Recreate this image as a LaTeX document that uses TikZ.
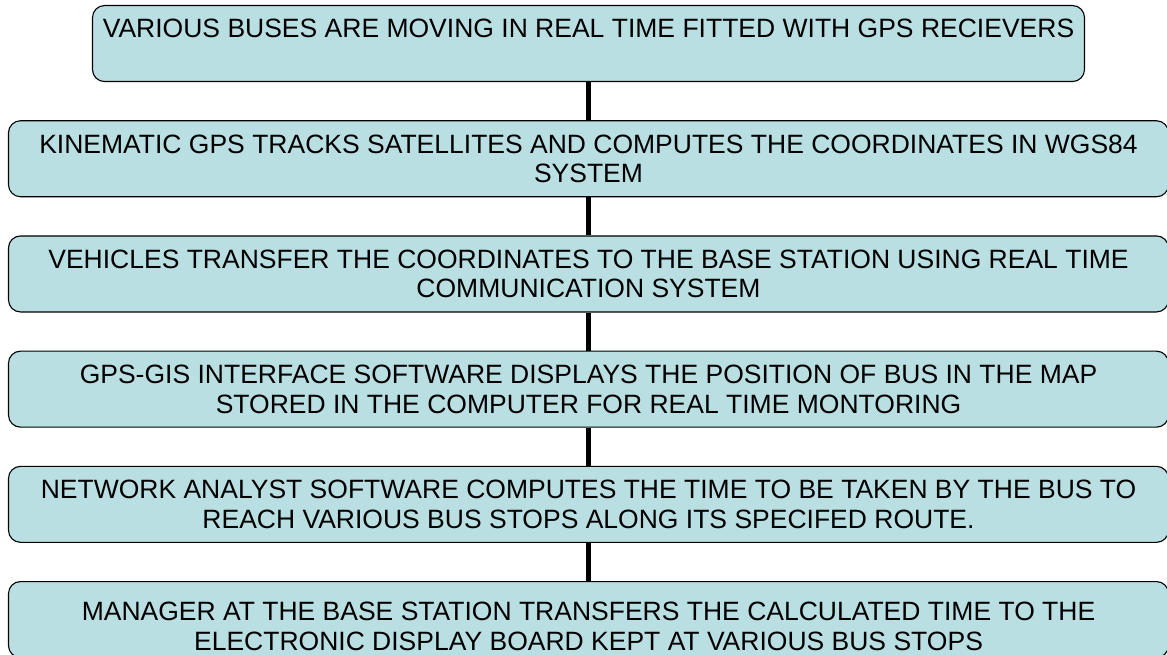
\documentclass[tikz,border=0pt]{standalone}
\usepackage{fontspec}
\setmainfont{Liberation Sans}
\usepackage{xcolor}
\usetikzlibrary{positioning}
\definecolor{BusCyan}{HTML}{B9DFE3}
\definecolor{BusInk}{HTML}{000000}
\tikzset{
  link/.style={line width=5pt,draw=BusInk},
  stagebox/.style={draw=BusInk,fill=BusCyan,line width=1.1pt,rounded corners=12pt,
    align=center,minimum height=76pt,minimum width=1160pt,inner xsep=4pt,inner ysep=0pt,
    font=\fontsize{26.5}{29.5}\selectfont}
}

\begin{document}
\begin{tikzpicture}[x=1pt,y=1pt,node distance=38.1pt]
  \useasboundingbox (0,0) rectangle (1167,-655);
  \node[stagebox,minimum width=992pt,text depth=30pt,anchor=north] (buses) at (588.5,-5)
    {VARIOUS BUSES ARE MOVING IN REAL TIME FITTED WITH GPS RECIEVERS};
  \node[stagebox,below=of buses] (kinematic)
    {KINEMATIC GPS TRACKS SATELLITES AND COMPUTES THE COORDINATES IN WGS84\\SYSTEM};
  \node[stagebox,below=of kinematic] (transfer)
    {VEHICLES TRANSFER THE COORDINATES TO THE BASE STATION USING REAL TIME\\COMMUNICATION SYSTEM};
  \node[stagebox,below=of transfer] (gis)
    {GPS-GIS INTERFACE SOFTWARE DISPLAYS THE POSITION OF BUS IN THE MAP\\STORED IN THE COMPUTER FOR REAL TIME MONTORING};
  \node[stagebox,below=of gis] (network)
    {NETWORK ANALYST SOFTWARE COMPUTES THE TIME TO BE TAKEN BY THE BUS TO\\REACH VARIOUS BUS STOPS ALONG ITS SPECIFED ROUTE.};
  \node[stagebox,text height=62pt,below=of network] (manager)
    {MANAGER AT THE BASE STATION TRANSFERS THE CALCULATED TIME TO THE\\ELECTRONIC DISPLAY BOARD KEPT AT VARIOUS BUS STOPS};

  \draw[link] (buses) -- (kinematic);
  \draw[link] (kinematic) -- (transfer);
  \draw[link] (transfer) -- (gis);
  \draw[link] (gis) -- (network);
  \draw[link] (network) -- (manager);
\end{tikzpicture}
\end{document}
